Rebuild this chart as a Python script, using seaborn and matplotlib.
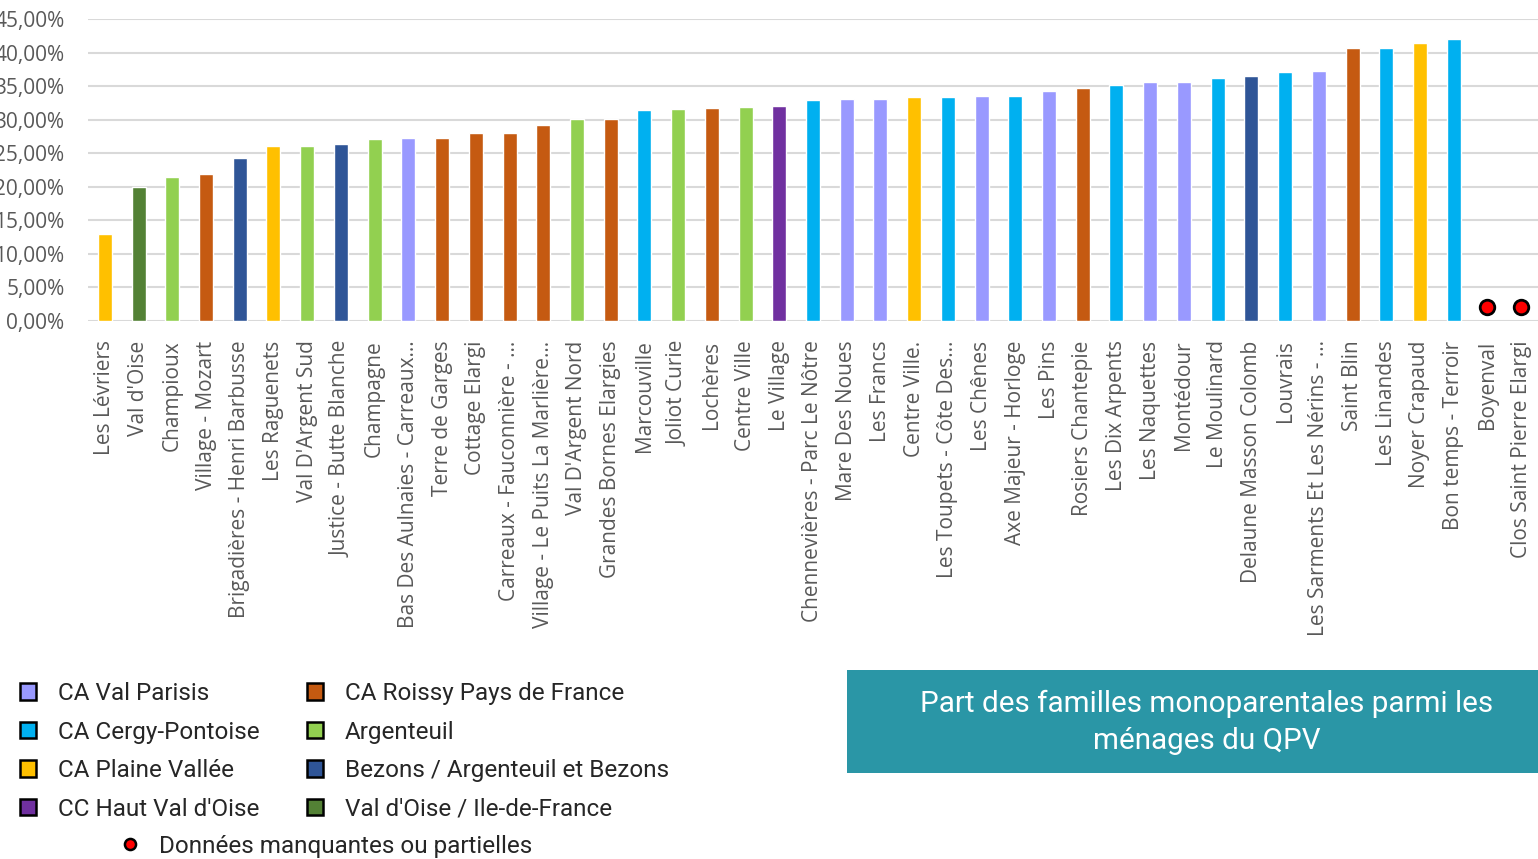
import numpy as np
import pandas as pd
import matplotlib
matplotlib.use("Agg")
import matplotlib.pyplot as plt
import matplotlib.patches as mpatches
from matplotlib.lines import Line2D
from matplotlib.ticker import FuncFormatter, MultipleLocator
import seaborn as sns

# quartiers (QPV), valeurs, None = donnée manquante
quartiers = [
    "Les Lévriers", "Val d'Oise", "Champioux", "Village - Mozart",
    "Brigadières - Henri Barbusse", "Les Raguenets", "Val D'Argent Sud",
    "Justice - Butte Blanche", "Champagne", "Bas Des Aulnaies - Carreaux...",
    "Terre de Garges", "Cottage Elargi", "Carreaux - Fauconnière - ...",
    "Village - Le Puits La Marlière...", "Val D'Argent Nord",
    "Grandes Bornes Elargies", "Marcouville", "Joliot Curie", "Lochères",
    "Centre Ville", "Le Village", "Chennevières - Parc Le Nôtre",
    "Mare Des Noues", "Les Francs", "Centre Ville.", "Les Toupets - Côte Des...",
    "Les Chênes", "Axe Majeur - Horloge", "Les Pins", "Rosiers Chantepie",
    "Les Dix Arpents", "Les Naquettes", "Montédour", "Le Moulinard",
    "Delaune Masson Colomb", "Louvrais", "Les Sarments Et Les Nérins - ...",
    "Saint Blin", "Les Linandes", "Noyer Crapaud", "Bon temps - Terroir",
    "Boyenval", "Clos Saint Pierre Elargi",
]
part_monoparentales = [
    12.9, 20.0, 21.5, 21.9, 24.3, 26.1, 26.1, 26.4, 27.1, 27.3,
    27.3, 28.0, 28.0, 29.2, 30.1, 30.1, 31.4, 31.6, 31.7, 31.9,
    32.0, 32.9, 33.1, 33.1, 33.4, 33.4, 33.5, 33.5, 34.3, 34.7,
    35.2, 35.6, 35.6, 36.2, 36.5, 37.1, 37.3, 40.7, 40.7, 41.4,
    42.0, None, None,
]
territoires = [
    "CA Plaine Vallée", "Val d'Oise / Ile-de-France", "Argenteuil",
    "CA Roissy Pays de France", "Bezons / Argenteuil et Bezons",
    "CA Plaine Vallée", "Argenteuil", "Bezons / Argenteuil et Bezons",
    "Argenteuil", "CA Val Parisis", "CA Roissy Pays de France",
    "CA Roissy Pays de France", "CA Roissy Pays de France",
    "CA Roissy Pays de France", "Argenteuil", "CA Roissy Pays de France",
    "CA Cergy-Pontoise", "Argenteuil", "CA Roissy Pays de France",
    "Argenteuil", "CC Haut Val d'Oise", "CA Cergy-Pontoise",
    "CA Val Parisis", "CA Val Parisis", "CA Plaine Vallée",
    "CA Cergy-Pontoise", "CA Val Parisis", "CA Cergy-Pontoise",
    "CA Val Parisis", "CA Roissy Pays de France", "CA Cergy-Pontoise",
    "CA Val Parisis", "CA Val Parisis", "CA Cergy-Pontoise",
    "Bezons / Argenteuil et Bezons", "CA Cergy-Pontoise", "CA Val Parisis",
    "CA Roissy Pays de France", "CA Cergy-Pontoise", "CA Plaine Vallée",
    "CA Cergy-Pontoise", "CA Roissy Pays de France", "CA Val Parisis",
]
legende_ordre = [
    "CA Val Parisis", "CA Cergy-Pontoise", "CA Plaine Vallée",
    "CC Haut Val d'Oise", "CA Roissy Pays de France", "Argenteuil",
    "Bezons / Argenteuil et Bezons", "Val d'Oise / Ile-de-France",
]
couleurs = {
    "CA Val Parisis": "#9999FF",
    "CA Cergy-Pontoise": "#00B0F0",
    "CA Plaine Vallée": "#FFC000",
    "CC Haut Val d'Oise": "#7030A0",
    "CA Roissy Pays de France": "#C55A11",
    "Argenteuil": "#92D050",
    "Bezons / Argenteuil et Bezons": "#2F5597",
    "Val d'Oise / Ile-de-France": "#538135",
}
# hauteur où sont posés les points rouges (données manquantes)
niveau_manquant = 2.1

df = pd.DataFrame({"quartier": quartiers,
                   "valeur": [np.nan if v is None else v / 100 for v in part_monoparentales],
                   "territoire": territoires})
barres = df.dropna(subset=["valeur"])
manquants = df[df["valeur"].isna()].assign(niveau=niveau_manquant / 100)

sns.set_theme(style="white")
plt.rcParams["font.family"] = ["Open Sans", "DejaVu Sans"]

fig = plt.figure(figsize=(15.38, 8.59), dpi=100)
ax = fig.add_axes([88 / 1538, 1 - 321 / 859, 1 - 88 / 1538, (321 - 19) / 859])

sns.barplot(data=barres, x="quartier", y="valeur", hue="territoire",
            order=quartiers, palette=couleurs, dodge=False, width=0.415,
            saturation=1, errorbar=None, legend=False, ax=ax)
sns.scatterplot(data=manquants, x="quartier", y="niveau", color="red",
                edgecolor="black", linewidth=2, s=110, zorder=3,
                legend=False, ax=ax, clip_on=False)

ax.set_xlim(-0.5, len(quartiers) - 0.5)
ax.set_ylim(0, 0.45)
ax.yaxis.set_major_locator(MultipleLocator(0.05))
ax.yaxis.set_major_formatter(FuncFormatter(lambda v, p: f"{v * 100:.2f}%".replace(".", ",")))
ax.grid(axis="y", color="#D9D9D9", linewidth=1.5)
ax.set_axisbelow(True)
for s in ax.spines.values():
    s.set_visible(False)
ax.set_xlabel("")
ax.set_ylabel("")
ax.tick_params(axis="y", length=0, pad=17, labelsize=15, labelcolor="#595959")
ax.tick_params(axis="x", length=0, pad=14, labelsize=15, labelcolor="#595959")
plt.setp(ax.get_xticklabels(), rotation=90, ha="center", va="top")

# legende des territoires
poignees = [mpatches.Patch(facecolor=couleurs[t], edgecolor="black", linewidth=1.8, label=t)
            for t in legende_ordre]
fig.legend(handles=poignees, loc="upper left", bbox_to_anchor=(20 / 1538, 1 - 682 / 859),
           ncol=2, frameon=False, prop={"family": "Roboto", "size": 17.5},
           handlelength=0.66, handleheight=0.66, handletextpad=0.9,
           labelspacing=0.64, columnspacing=1.95, borderpad=0, borderaxespad=0)
point = Line2D([], [], marker="o", linestyle="", markerfacecolor="red",
               markeredgecolor="black", markeredgewidth=1.8, markersize=8,
               label="Données manquantes ou partielles")
fig.legend(handles=[point], loc="upper left", bbox_to_anchor=(118 / 1538, 1 - 835 / 859),
           frameon=False, prop={"family": "Roboto", "size": 17.5},
           handlelength=1.0, handletextpad=0.7, borderpad=0, borderaxespad=0)

# encadré du titre
fig.patches.append(mpatches.Rectangle((847 / 1538, 1 - 773 / 859), (1538 - 847) / 1538, 103 / 859,
                                      transform=fig.transFigure, facecolor="#2A96A6",
                                      edgecolor="none", zorder=0))
fig.text(1207 / 1538, 1 - 722 / 859, "Part des familles monoparentales parmi les\nménages du QPV",
         ha="center", va="center", color="white", fontsize=21.3, family="Roboto",
         linespacing=1.4)

fig.savefig("out.png", dpi=100)
